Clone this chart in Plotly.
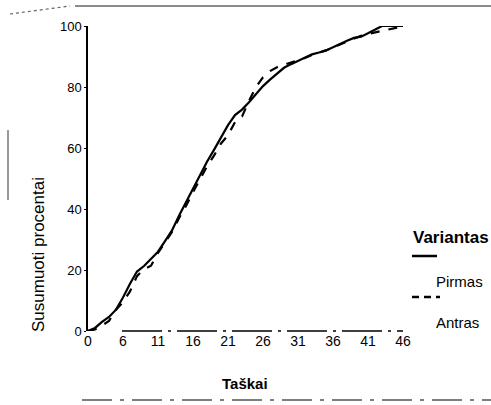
import plotly.graph_objects as go

W, H = 491, 405
L, R, T, B = 88, 88, 26, 74
PW, PH = W - L - R, H - T - B

tasks = list(range(1, 47))
pirmas = [0, 1, 3, 4.6, 7, 11, 15.5, 19.5, 21.3, 23.5, 26, 29.5, 33, 37.8, 42.2, 46.9,
          51.3, 55.5, 59.4, 63.5, 67.5, 70.8, 72.6, 75, 77.8, 80.3, 82.4, 84.4, 86.3, 87.5,
          88.5, 89.6, 90.7, 91.3, 92, 93, 94.2, 95.2, 96.1, 96.5, 97.6, 98.8, 100, 100, 100, 100]
antras = [0, 0.5, 1.8, 3.3, 7, 9.5, 13, 18, 20.3, 21.4, 25.6, 29, 32.5, 37, 41, 45.5,
          50, 54, 57.5, 61.5, 64.2, 68.5, 70.3, 75.5, 80, 83.2, 85.2, 86.5, 87.3, 88,
          88.7, 89.5, 90.5, 91.2, 92, 93, 94, 95, 96, 96.8, 97.4, 97.9, 98.3, 98.7, 99.4, 100]
xtick_vals = [1, 6, 11, 16, 21, 26, 31, 36, 41, 46]
xtick_text = ["0", "6", "11", "16", "21", "26", "31", "36", "41", "46"]
ytick_vals = [0, 20, 40, 60, 80, 100]

FONT = "Liberation Sans, Arial, Helvetica, sans-serif"


def px(x):
    return (x - L) / PW


def py(y):
    return (H - B - y) / PH


fig = go.Figure()
fig.add_trace(go.Scatter(x=tasks, y=pirmas, mode="lines", name="Pirmas",
                         line=dict(color="black", width=2.2), showlegend=False))
fig.add_trace(go.Scatter(x=tasks, y=antras, mode="lines", name="Antras",
                         line=dict(color="black", width=2.2, dash="dash"), showlegend=False))

fig.update_layout(
    width=W, height=H,
    margin=dict(l=L, r=R, t=T, b=B, pad=0),
    paper_bgcolor="white", plot_bgcolor="white",
    font=dict(family=FONT, color="black"),
    xaxis=dict(range=[1, 46], tickvals=xtick_vals, ticktext=xtick_text,
               showgrid=False, zeroline=False, showline=False, ticks="",
               tickfont=dict(size=14), ticklabelstandoff=0),
    yaxis=dict(range=[0, 100], tickvals=ytick_vals, showgrid=False, zeroline=False,
               showline=True, linecolor="black", linewidth=1.5, ticks="outside",
               ticklen=2, tickcolor="black", tickfont=dict(size=13)),
)

shapes = []
# broken x axis line (scan look)
shapes.append(dict(type="line", xref="paper", yref="paper", x0=px(122), x1=px(403),
                   y0=py(331), y1=py(331), line=dict(color="black", width=1.5, dash="40px,6px,3px,6px")))
# frame artifacts
shapes.append(dict(type="line", xref="paper", yref="paper", x0=px(75), x1=px(491),
                   y0=py(6), y1=py(6), line=dict(color="#666666", width=1.5)))
shapes.append(dict(type="line", xref="paper", yref="paper", x0=px(10), x1=px(70),
                   y0=py(14), y1=py(6), line=dict(color="#666666", width=1.2, dash="dot")))
shapes.append(dict(type="line", xref="paper", yref="paper", x0=px(82), x1=px(491),
                   y0=py(400), y1=py(400), line=dict(color="#555555", width=1.5, dash="30px,8px,4px,8px")))
shapes.append(dict(type="line", xref="paper", yref="paper", x0=px(8), x1=px(8),
                   y0=py(130), y1=py(200), line=dict(color="#555555", width=1.2)))
# custom legend samples
shapes.append(dict(type="line", xref="paper", yref="paper", x0=px(412), x1=px(437),
                   y0=py(256), y1=py(256), line=dict(color="black", width=2.5)))
shapes.append(dict(type="line", xref="paper", yref="paper", x0=px(412), x1=px(440),
                   y0=py(297), y1=py(297), line=dict(color="black", width=2.5, dash="7px,5px")))
fig.update_layout(shapes=shapes)

ann = [
    dict(text="Susumuoti procentai", x=px(38), y=py(255), textangle=-90, font=dict(size=17)),
    dict(text="Taškai", x=px(245), y=py(383), font=dict(size=15, weight="bold")),
    dict(text="Variantas", x=px(451), y=py(237), font=dict(size=17, weight="bold")),
    dict(text="Pirmas", x=px(459), y=py(281), font=dict(size=15)),
    dict(text="Antras", x=px(457), y=py(322), font=dict(size=15)),
]
for a in ann:
    a.update(xref="paper", yref="paper", showarrow=False, xanchor="center", yanchor="middle")
fig.update_layout(annotations=ann)

fig.write_html("out.html", config={"displayModeBar": False},
               post_script="document.body.style.margin='0';document.body.style.overflow='hidden';")
